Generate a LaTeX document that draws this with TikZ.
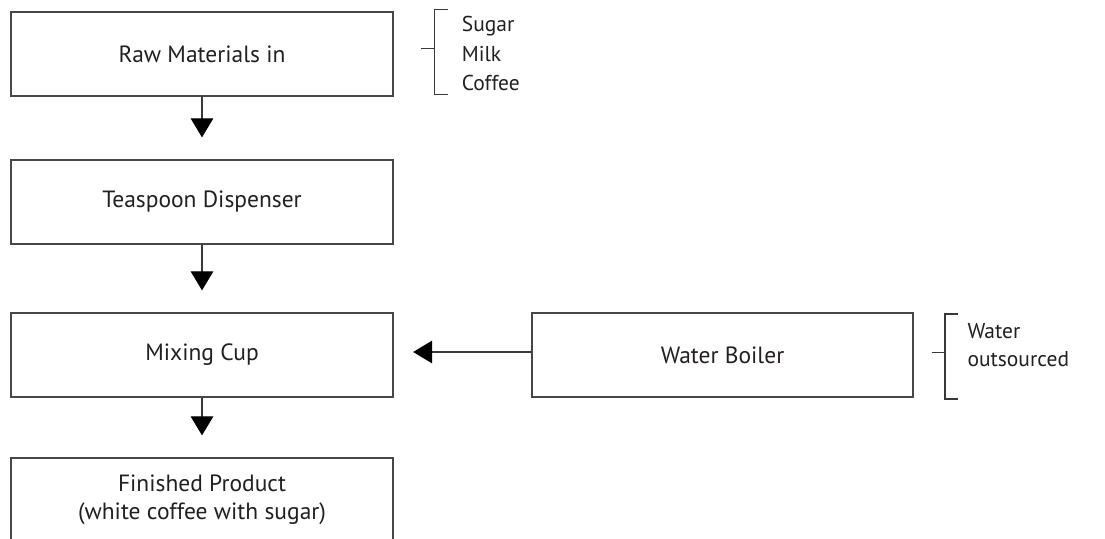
\documentclass[tikz,border=0pt]{standalone}
\usepackage{fontspec}
\setmainfont{PT Sans}
\usetikzlibrary{arrows.meta}
\definecolor{ink}{HTML}{231F20}
\tikzset{
  box/.style={draw=black!72, line width=1.2pt, minimum width=382pt, minimum height=84pt,
    inner sep=0pt, font=\fontsize{23.5}{28}\selectfont, text=ink, align=center},
  flow/.style={draw=black!78, line width=1.1pt,
    -{Triangle[length=19pt,width=22.5pt,color=black]}, shorten >=22pt},
  brace/.style={draw=black!78, line width=1.1pt},
  side/.style={anchor=base west, inner sep=0pt, text=ink, font=\fontsize{21.5}{26}\selectfont}
}
\begin{document}
\begin{tikzpicture}[x=1pt,y=-1pt]
\useasboundingbox (0,0) rectangle (1105,538);
\clip (0,0) rectangle (1105,538);
\node[box] (raw) at (202,54) {Raw Materials in};
\node[box] (tsp) at (202,202) {Teaspoon Dispenser};
\node[box] (mix) at (202,355) {Mixing Cup};
\node[box] (fin) at (202,500) {Finished Product\\(white coffee with sugar)};
\node[box, minimum width=381pt] (wb) at (722.5,355) {Water Boiler};
\draw[flow] (raw) -- (tsp);
\draw[flow] (tsp) -- (mix);
\draw[flow] (mix) -- (fin);
\draw[flow, shorten >=19.5pt] ([yshift=3pt]wb.west) -- ([yshift=3pt]mix.east);
% bracket for raw materials
\coordinate (b1) at (434.3,48.3);
\draw[brace] (421,48.3) -- (b1);
\draw[brace] (447.7,9.3) -- (434.3,9.3) -- (434.3,94.3) -- (447.7,94.3);
\node[side] (sugar) at (461.7,31.7) {Sugar};
\node[side] (milk) at (461.7,61.3) {Milk};
\node[side] (coffee) at (461.7,90.8) {Coffee};
% bracket for water boiler
\coordinate (b2) at (945,352.3);
\draw[brace] (931.7,352.3) -- (b2);
\draw[brace] (958.3,314) -- (945,314) -- (945,399) -- (958.3,399);
\node[side] (water) at (967.3,338) {Water};
\node[side] (outs) at (967.3,366.7) {outsourced};
\end{tikzpicture}
\end{document}
